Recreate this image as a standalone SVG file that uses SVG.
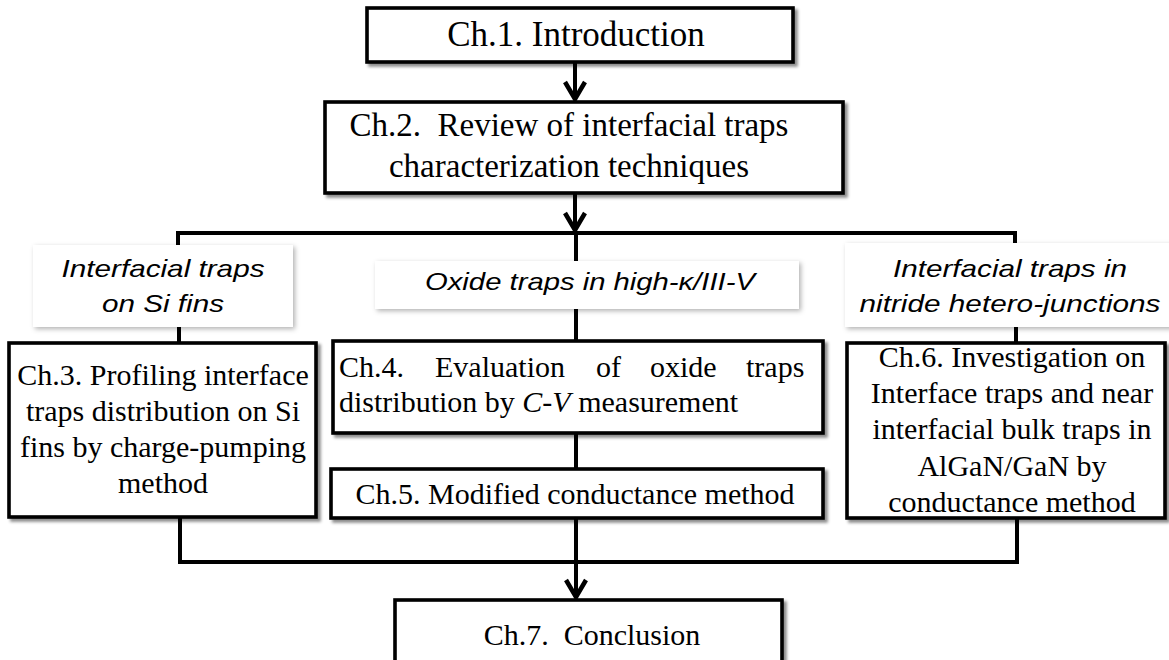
<svg xmlns="http://www.w3.org/2000/svg" width="1169" height="660" viewBox="0 0 1169 660">
  <style>
    .box { fill: #ffffff; stroke: #000000; stroke-width: 3.6; filter: url(#boxShadow); }
    .tag { fill: #ffffff; stroke: none; filter: url(#tagShadow); }
    .wire { fill: none; stroke: #000000; stroke-width: 4; stroke-linejoin: miter; }
    .head { fill: none; stroke: #000000; stroke-width: 4.5; stroke-linejoin: miter; stroke-linecap: butt; }
    .ch { font-family: "Liberation Serif", "Times New Roman", serif; font-size: 30px; fill: #000000; }
    .chl { font-family: "Liberation Serif", "Times New Roman", serif; font-size: 33px; fill: #000000; }
    .chxl { font-size: 35px; }
    .lbl { font-family: "Liberation Sans", Arial, sans-serif; font-size: 24px; font-style: italic; fill: #000000; }
    .c { text-anchor: middle; }
  </style>
  <defs>
    <filter id="boxShadow" x="-10%" y="-10%" width="125%" height="130%">
      <feDropShadow dx="3" dy="3" stdDeviation="1.8" flood-color="#000000" flood-opacity="0.45"/>
    </filter>
    <filter id="tagShadow" x="-10%" y="-20%" width="125%" height="145%">
      <feDropShadow dx="2" dy="2" stdDeviation="2.5" flood-color="#000000" flood-opacity="0.3"/>
    </filter>
  </defs>

  <rect width="1169" height="660" fill="#ffffff"/>

  <!-- connectors -->
  <g id="connectors">
    <path class="wire" d="M575 62 V98"/>
    <path class="head" d="M565 82 L575 99 L585 82"/>
    <path class="wire" d="M575 193 V229"/>
    <path class="head" d="M565 213 L575 230 L585 213"/>
    <path class="wire" d="M178 250 V233 H1015 V250"/>
    <path class="wire" d="M576 233 V341"/>
    <path class="wire" d="M179 320 V343"/>
    <path class="wire" d="M1016 320 V343"/>
    <path class="wire" d="M576 433 V469"/>
    <path class="wire" d="M576 518 V596"/>
    <path class="wire" d="M180 517 V562 H1017 V518"/>
    <path class="head" d="M566 580 L576 597 L586 580"/>
  </g>

  <!-- category tags -->
  <g id="tag-si">
    <rect class="tag" x="33" y="245" width="260" height="82"/>
    <text class="lbl c" x="163" y="277" textLength="203" lengthAdjust="spacingAndGlyphs">Interfacial traps</text>
    <text class="lbl c" x="163" y="312" textLength="122" lengthAdjust="spacingAndGlyphs">on Si fins</text>
  </g>
  <g id="tag-oxide">
    <rect class="tag" x="375" y="261" width="424" height="48"/>
    <text class="lbl c" x="590" y="290" textLength="330" lengthAdjust="spacingAndGlyphs">Oxide traps in high-κ/III-V</text>
  </g>
  <g id="tag-nitride">
    <rect class="tag" x="845" y="243" width="330" height="84"/>
    <text class="lbl c" x="1010" y="277" textLength="234" lengthAdjust="spacingAndGlyphs">Interfacial traps in</text>
    <text class="lbl c" x="1010" y="312" textLength="301" lengthAdjust="spacingAndGlyphs">nitride hetero-junctions</text>
  </g>

  <!-- chapter boxes -->
  <g id="ch1">
    <rect class="box" x="367" y="8" width="426" height="54"/>
    <text class="chl chxl c" x="576" y="46">Ch.1. Introduction</text>
  </g>
  <g id="ch2">
    <rect class="box" x="325" y="102" width="518" height="91"/>
    <text class="chl c" x="569" y="136">Ch.2.&#160; Review of interfacial traps</text>
    <text class="chl c" x="569" y="177">characterization techniques</text>
  </g>
  <g id="ch3">
    <rect class="box" x="9" y="343" width="307" height="174"/>
    <text class="ch c" x="163" y="385">Ch.3. Profiling interface</text>
    <text class="ch c" x="163" y="421">traps distribution on Si</text>
    <text class="ch c" x="163" y="457">fins by charge-pumping</text>
    <text class="ch c" x="163" y="493">method</text>
  </g>
  <g id="ch4">
    <rect class="box" x="333" y="341" width="490" height="92"/>
    <text class="ch" y="377"><tspan x="339">Ch.4.</tspan><tspan x="435">Evaluation</tspan><tspan x="596">of</tspan><tspan x="650">oxide</tspan><tspan x="746">traps</tspan></text>
    <text class="ch" x="339" y="412">distribution by <tspan font-style="italic">C-V</tspan> measurement</text>
  </g>
  <g id="ch5">
    <rect class="box" x="331" y="469" width="492" height="49"/>
    <text class="ch c" x="575" y="504">Ch.5. Modified conductance method</text>
  </g>
  <g id="ch6">
    <rect class="box" x="847" y="343" width="318" height="175"/>
    <text class="ch c" x="1012" y="367">Ch.6. Investigation on</text>
    <text class="ch c" x="1012" y="403">Interface traps and near</text>
    <text class="ch c" x="1012" y="439">interfacial bulk traps in</text>
    <text class="ch c" x="1012" y="476">AlGaN/GaN by</text>
    <text class="ch c" x="1012" y="512">conductance method</text>
  </g>
  <g id="ch7">
    <rect class="box" x="395" y="600" width="387" height="70"/>
    <text class="ch c" x="592" y="645">Ch.7.&#160; Conclusion</text>
  </g>
</svg>
